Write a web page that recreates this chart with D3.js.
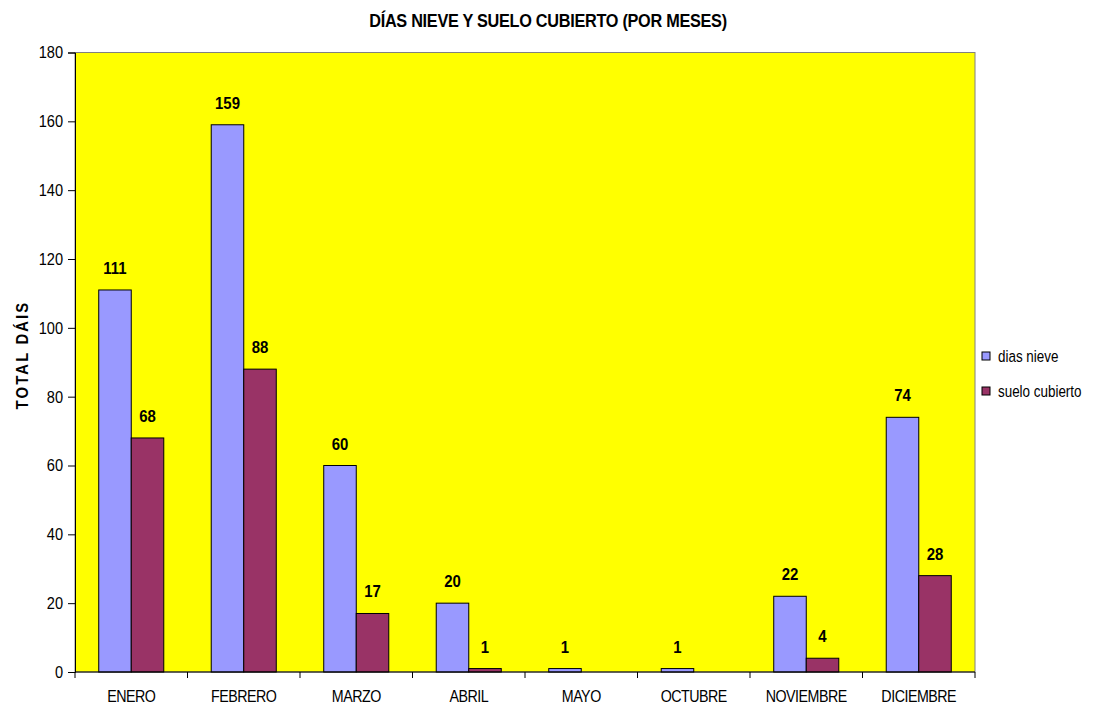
<!DOCTYPE html>
<html>
<head>
<meta charset="utf-8">
<script src="https://cdn.jsdelivr.net/npm/d3@7"></script>
<style>
  body { margin: 0; background: #fff; }
  text { font-family: "Liberation Sans", Arial, sans-serif; }
</style>
</head>
<body>
<div id="chart"></div>
<script>
const months = ["ENERO", "FEBRERO", "MARZO", "ABRIL", "MAYO", "OCTUBRE", "NOVIEMBRE", "DICIEMBRE"];
const diasNieve = [111, 159, 60, 20, 1, 1, 22, 74];
const sueloCubierto = [68, 88, 17, 1, 0, 0, 4, 28];
const seriesNames = ["dias nieve", "suelo cubierto"];
const yTicks = [0, 20, 40, 60, 80, 100, 120, 140, 160, 180];

const width = 1095, height = 706;
const plotLeft = 75, plotRight = 975, plotTop = 52.5, plotBottom = 672;
const colors = ["#9999ff", "#993366"];

const svg = d3.select("#chart").append("svg")
  .attr("width", width).attr("height", height);

// squeeze text horizontally (narrow font look)
const place = (px, py, sx) => "translate(" + px + "," + py + ") scale(" + sx + ",1)";

let x = d3.scaleBand().domain(months).range([plotLeft, plotRight]);
let barW = x.bandwidth() * 0.289;

let y = d3.scaleLinear().domain([0, 180]).range([plotBottom, plotTop]);

// plot background
svg.append("rect")
  .attr("x", plotLeft).attr("y", plotTop)
  .attr("width", plotRight - plotLeft).attr("height", plotBottom - plotTop)
  .attr("fill", "#ffff00")
  .attr("stroke", "#808080").attr("stroke-width", 1);

// bars
const series = [diasNieve, sueloCubierto];
series.forEach((vals, s) => {
  svg.append("g").selectAll("rect")
    .data(months.map((m, i) => ({ m: m, v: vals[i] })))
    .enter().append("rect")
    .filter(d => d.v > 0)
    .attr("x", d => x(d.m) + x.bandwidth() / 2 - barW + s * barW)
    .attr("y", d => y(d.v))
    .attr("width", barW)
    .attr("height", d => y(0) - y(d.v))
    .attr("fill", colors[s])
    .attr("stroke", "#000").attr("stroke-width", 1);

  svg.append("g").selectAll("text")
    .data(months.map((m, i) => ({ m: m, v: vals[i] })))
    .enter().append("text")
    .filter(d => d.v > 0)
    .attr("transform", d => place(x(d.m) + x.bandwidth() / 2 - barW / 2 + s * barW, y(d.v) - 16, 0.88))
    .attr("text-anchor", "middle")
    .attr("font-size", "17px")
    .attr("font-weight", "bold")
    .text(d => d.v);
});

// y axis
let yAxis = d3.axisLeft(y).tickValues(yTicks).tickSize(7).tickPadding(5);
const gy = svg.append("g")
  .attr("transform", "translate(" + plotLeft + ",0)")
  .call(yAxis);
gy.select(".domain").attr("stroke", "#000");
gy.selectAll(".tick line").attr("stroke", "#000");
gy.selectAll("text").attr("font-size", "17px").attr("fill", "#000")
  .attr("font-family", null)
  .attr("x", -12 / 0.86)
  .attr("transform", "scale(0.86,1)");

// x axis (ticks on category boundaries)
let boundaries = months.map(m => x(m)).concat([plotRight]);
svg.append("line")
  .attr("x1", plotLeft).attr("x2", plotRight).attr("y1", plotBottom).attr("y2", plotBottom)
  .attr("stroke", "#000");
svg.append("g").selectAll("line")
  .data(boundaries).enter().append("line")
  .attr("x1", d => d).attr("x2", d => d)
  .attr("y1", plotBottom).attr("y2", plotBottom + 6)
  .attr("stroke", "#000");
svg.append("g").selectAll("text")
  .data(months).enter().append("text")
  .attr("transform", d => place(x(d) + x.bandwidth() / 2, plotBottom + 30, 0.84))
  .attr("text-anchor", "middle")
  .attr("font-size", "17px")
  .style("letter-spacing", "-0.6px")
  .text(d => d);

// title
svg.append("text")
  .attr("transform", place(548, 27, 0.93))
  .attr("text-anchor", "middle")
  .attr("font-size", "17.5px").attr("font-weight", "bold")
  .style("letter-spacing", "-0.3px")
  .text("DÍAS NIEVE Y SUELO CUBIERTO (POR MESES)");

// y title
svg.append("text")
  .attr("transform", "translate(28,355) rotate(-90) scale(0.87,1)")
  .attr("text-anchor", "middle")
  .attr("font-size", "17px").attr("font-weight", "bold")
  .style("letter-spacing", "2.5px")
  .text("TOTAL DÁIS");

// legend
const legend = svg.append("g");
seriesNames.forEach((name, i) => {
  legend.append("rect")
    .attr("x", 982).attr("y", 352 + i * 35)
    .attr("width", 8).attr("height", 8)
    .attr("fill", colors[i]).attr("stroke", "#000");
  legend.append("text")
    .attr("transform", place(998, 362 + i * 35, 0.79))
    .attr("font-size", "17px")
    .text(name);
});
</script>
</body>
</html>
